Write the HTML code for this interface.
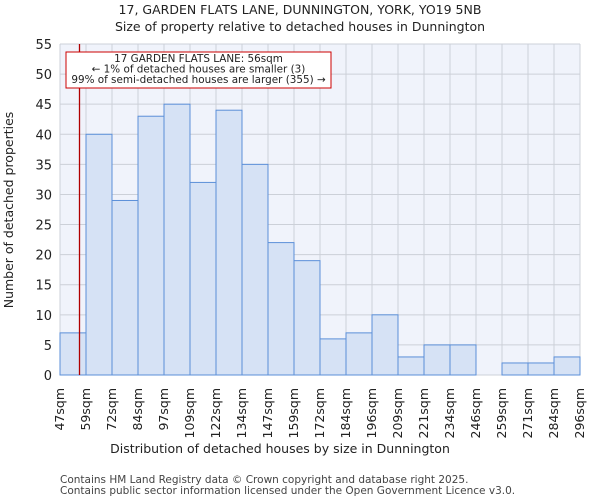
<!DOCTYPE html>
<html><head><meta charset="utf-8"><style>
body{margin:0;background:#fff;font-family:"DejaVu Sans","Liberation Sans",sans-serif}
</style></head><body>
<svg id="c" width="600" height="500" xmlns="http://www.w3.org/2000/svg" font-family="DejaVu Sans, Liberation Sans, sans-serif">
<text x="300" y="14" text-anchor="middle" font-size="12.5" fill="#222">17, GARDEN FLATS LANE, DUNNINGTON, YORK, YO19 5NB</text>
<text x="300" y="31" text-anchor="middle" font-size="12.5" fill="#222">Size of property relative to detached houses in Dunnington</text>
<g id="plot"></g>
<text x="280" y="453" text-anchor="middle" font-size="12.5" fill="#222">Distribution of detached houses by size in Dunnington</text>
<text transform="translate(13,210) rotate(-90)" text-anchor="middle" font-size="12.5" fill="#222">Number of detached properties</text>
<text x="60" y="483" font-size="10.5" fill="#444">Contains HM Land Registry data © Crown copyright and database right 2025.</text>
<text x="60" y="494" font-size="10.5" fill="#444">Contains public sector information licensed under the Open Government Licence v3.0.</text>
</svg>
<script>
const categories=["47sqm","59sqm","72sqm","84sqm","97sqm","109sqm","122sqm","134sqm","147sqm","159sqm","172sqm","184sqm","196sqm","209sqm","221sqm","234sqm","246sqm","259sqm","271sqm","284sqm","296sqm"];
const counts=[7,40,29,43,45,32,44,35,22,19,6,7,10,3,5,5,0,2,2,3];
const yTicks=[0,5,10,15,20,25,30,35,40,45,50,55];
const edges=[47,59,72,84,97,109,122,134,147,159,172,184,196,209,221,234,246,259,271,284,296];
const propertySize=56;
const L=60,R=580,T=44,B=375,yMax=55;
const NS="http://www.w3.org/2000/svg";
const g=document.getElementById('plot');
const bw=(R-L)/counts.length;
const xi=i=>L+i*bw;
const y=v=>B-(v/yMax)*(B-T);
function mk(t,a,p){const e=document.createElementNS(NS,t);for(const k in a)e.setAttribute(k,a[k]);(p||g).appendChild(e);return e;}
const bg=mk('rect',{x:L,y:T,width:R-L,height:B-T,fill:'#f0f3fb'});


yTicks.forEach(v=>{
 const l=mk('line',{x1:L,x2:R,y1:y(v),y2:y(v),stroke:'#ccd0d8','stroke-width':1});
 
 
 const t=mk('text',{x:L-8,y:y(v)+5,'text-anchor':'end','font-size':13,fill:'#222'});
 t.textContent=v;
 
 
});
for(let i=0;i<=counts.length;i++){
 const l=mk('line',{x1:xi(i),x2:xi(i),y1:T,y2:B,stroke:'#ccd0d8','stroke-width':1});
 
 
}
counts.forEach((v,i)=>{
 const r=mk('rect',{x:xi(i),y:y(v),width:bw,height:B-y(v),fill:'#d6e2f5',stroke:'#5b8fd8','stroke-width':1});
 
 
});
categories.forEach((c,i)=>{
 const t=mk('text',{transform:`translate(${xi(i)+4},388) rotate(-90)`,'text-anchor':'end','font-size':12.5,fill:'#222'});
 t.textContent=c;
 
 
});
const xs=L+(propertySize-edges[0])/(edges[1]-edges[0])*bw;
const ml=mk('line',{x1:xs,x2:xs,y1:T,y2:B,stroke:'#b00000','stroke-width':1.3});


const box=mk('rect',{x:66,y:52,width:265,height:36,fill:'#fff',stroke:'#cc0000','stroke-width':1});


["17 GARDEN FLATS LANE: 56sqm","← 1% of detached houses are smaller (3)","99% of semi-detached houses are larger (355) →"].forEach((s,i)=>{
 const t=mk('text',{x:198.5,y:62+i*10.5,'text-anchor':'middle','font-size':10.4,fill:'#222'});
 t.textContent=s;
 
 
});
</script>
</body></html>
